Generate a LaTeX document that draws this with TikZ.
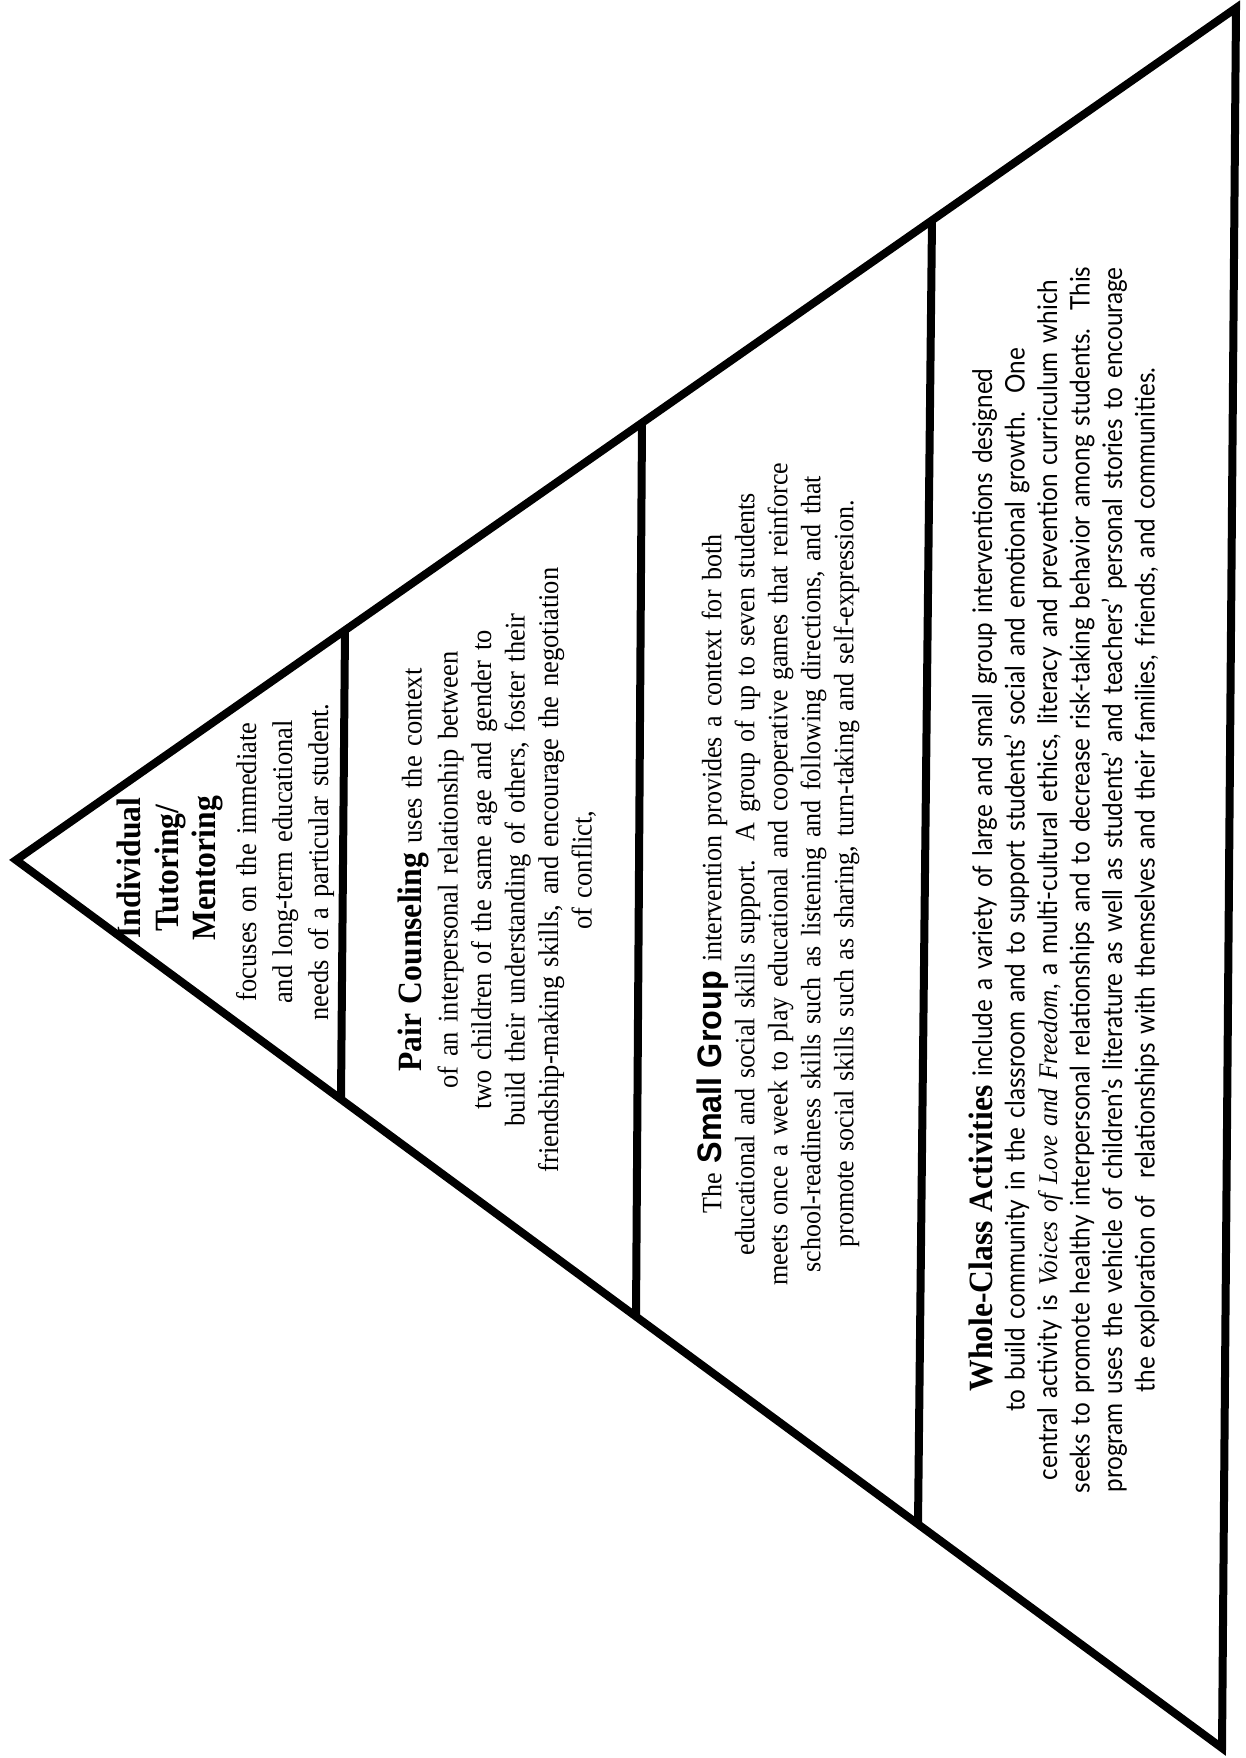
\documentclass[tikz,border=0pt]{standalone}
\usepackage{fontspec}
\setmainfont[FakeStretch=0.93]{Liberation Serif}
\newfontfamily\sgfont[FakeStretch=0.95]{Liberation Sans}
\newfontfamily\wcfont[FakeStretch=0.9]{Lato}
\begin{document}
\begin{tikzpicture}[x=1pt,y=-1pt,
  edge/.style={line width=8pt, line join=miter, line cap=butt},
  txt/.style={rotate=90, align=center, inner sep=0pt},
  body/.style={font=\fontsize{28.5}{33.5}\selectfont}]
\useasboundingbox[fill=white] (0,0) rectangle (1246,1758);
% outer triangle
\coordinate (A) at (16,860);
\coordinate (T) at (1236,8);
\coordinate (B) at (1222,1748);
\draw[edge] (A) -- (T) -- (B) -- cycle;
% dividers
\coordinate (d1t) at (345,630);
\coordinate (d1b) at (341,1098);
\coordinate (d2t) at (642,423);
\coordinate (d2b) at (636,1316);
\coordinate (d3t) at (932,220);
\coordinate (d3b) at (918,1524);
\draw[edge] (d1t) -- (d1b);
\draw[edge] (d2t) -- (d2b);
\draw[edge] (d3t) -- (d3b);
% section 1
\node[txt, font=\fontsize{34}{37.5}\selectfont\bfseries, text width=400pt] (s1head) at (170,868)
  {Individual\\Tutoring/\\Mentoring};
\node[txt, font=\fontsize{28.5}{36}\selectfont, text width=400pt] (s1body) at (285,862)
  {focuses on the immediate\\and long-term educational\\needs of a particular student.};
% section 2
\node[txt, body, text width=800pt] (s2) at (497,870) {%
  {\fontsize{34}{33.5}\selectfont\bfseries Pair Counseling} uses the context\\[2.5pt]
  of an interpersonal relationship between\\
  two children of the same age and gender to\\
  build their understanding of others, foster their\\
  friendship-making skills, and encourage the negotiation\\
  of conflict,};
% section 3
\node[txt, font=\fontsize{28}{33}\selectfont, text width=950pt] (s3) at (778,874) {%
  The {\sgfont\bfseries\fontsize{34}{33}\selectfont Small Group} intervention provides a context for both\\
  educational and social skills support.\ \ A group of up to seven students\\
  meets once a week to play educational and cooperative games that reinforce\\
  school-readiness skills such as listening and following directions, and that\\
  promote social skills such as sharing, turn-taking and self-expression.};
% section 4
\node[txt, font=\wcfont\fontsize{27}{32.5}\selectfont, text width=1300pt] (s4) at (1064,880) {%
  {\rmfamily\bfseries\fontsize{34}{32.5}\selectfont Whole-Class Activities} include a variety of large and small group interventions designed\\
  to build community in the classroom and to support students’ social and emotional growth.\ \ One\\
  central activity is {\rmfamily\itshape Voices of Love and Freedom}, a multi-cultural ethics, literacy and prevention curriculum which\\
  seeks to promote healthy interpersonal relationships and to decrease risk-taking behavior among students.\ \ This\\
  program uses the vehicle of children’s literature as well as students’ and teachers’ personal stories to encourage\\
  the exploration of\ \ relationships with themselves and their families, friends, and communities.};
\end{tikzpicture}
\end{document}
